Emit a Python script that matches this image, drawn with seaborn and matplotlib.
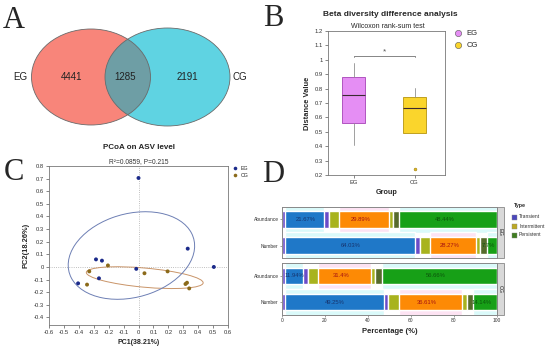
import numpy as np
import pandas as pd
import matplotlib
matplotlib.use("Agg")
import matplotlib.pyplot as plt
from matplotlib.patches import Ellipse, Rectangle
from matplotlib.lines import Line2D
from matplotlib.ticker import FuncFormatter, MultipleLocator
import seaborn as sns

sns.set_theme(style="white")
plt.rcParams['font.family'] = ['Liberation Sans', 'DejaVu Sans']
plt.rcParams['axes.unicode_minus'] = False

# ---- A: venn counts (EG only, shared, CG only)
venn_labels = ['EG', 'CG']
venn_counts = [4441, 1285, 2191]

# ---- B: box statistics
box_groups = ['EG', 'CG']
box_whislo = [0.408, 0.49]
box_q1 = [0.563, 0.49]
box_med = [0.756, 0.663]
box_q3 = [0.878, 0.744]
box_whishi = [0.976, 0.802]
box_fliers = [[], [0.242]]

# ---- C: PCoA coordinates
pc1_eg = [0.00, 0.33, 0.505, -0.285, -0.245, -0.015, -0.265, -0.405]
pc2_eg = [0.705, 0.145, 0.00, 0.06, 0.05, -0.015, -0.09, -0.13]
pc1_cg = [-0.205, -0.33, -0.345, 0.04, 0.195, 0.315, 0.325, 0.34]
pc2_cg = [0.012, -0.035, -0.14, -0.05, -0.035, -0.135, -0.125, -0.17]

# ---- D: composition (Transient, Intermittent, Persistent)
d_types = ['Transient', 'Intermittent', 'Persistent']
d_rows = ['Abundance', 'Number']
eg_abundance = [21.67, 29.89, 48.44]
eg_number = [64.03, 28.27, 7.7]
cg_abundance = [11.94, 31.4, 56.66]
cg_number = [49.25, 36.61, 14.14]

W, H = 550, 349
fig = plt.figure(figsize=(W / 100, H / 100), dpi=100)


def add_ax(l, t, r, b):
    return fig.add_axes([l / W, 1 - b / H, (r - l) / W, (b - t) / H])


def letter(x, y, s):
    fig.text(x / W, 1 - y / H, s, fontsize=22, family='Liberation Serif',
             ha='center', va='center')


# ================= A =================
axA = add_ax(0, 0, 275, 145)
axA.set_xlim(0, 275)
axA.set_ylim(145, 0)
axA.axis('off')
e_left = Ellipse((91, 77), 119, 96, fc='#f8857a', ec='none')
e_right = Ellipse((167.5, 77), 125, 98, fc='#5fd3e2', ec='none')
axA.add_patch(e_left)
axA.add_patch(e_right)
ov = Ellipse((167.5, 77), 125, 98, fc='#6e9ea5', ec='none')
axA.add_patch(ov)
ov.set_clip_path(e_left)
axA.add_patch(Ellipse((91, 77), 119, 96, fc='none', ec='#6a6a6a', lw=0.6))
axA.add_patch(Ellipse((167.5, 77), 125, 98, fc='none', ec='#6a6a6a', lw=0.6))
for x, s in zip([20, 72, 125, 187, 240],
                [venn_labels[0]] + [str(c) for c in venn_counts] + [venn_labels[1]]):
    axA.text(x, 77, s, fontsize=7, ha='center', va='center', color='#222222')
letter(14, 20, 'A')

# ================= B =================
axB = add_ax(328, 31, 445, 175)
stats = []
for i, g in enumerate(box_groups):
    stats.append(dict(label=g, whislo=box_whislo[i], q1=box_q1[i], med=box_med[i],
                      q3=box_q3[i], whishi=box_whishi[i], fliers=box_fliers[i]))
box_fill = ['#e58ef4', '#fad52c']
box_edge = ['#b055c0', '#c0a020']
bp = axB.bxp(stats, positions=[0, 1], widths=0.39, patch_artist=True, showcaps=False,
             flierprops=dict(marker='o', ms=2, mfc='#e0b820', mec='#a08010', mew=0.4))
for i, b in enumerate(bp['boxes']):
    b.set_facecolor(box_fill[i])
    b.set_edgecolor(box_edge[i])
    b.set_linewidth(0.7)
for m in bp['medians']:
    m.set_color('#3a2a30')
    m.set_linewidth(0.8)
for w in bp['whiskers']:
    w.set_color('#909090')
    w.set_linewidth(0.6)
axB.set_xlim(-0.42, 1.5)
axB.set_ylim(0.2, 1.2)
axB.yaxis.set_major_locator(MultipleLocator(0.1))
axB.yaxis.set_major_formatter(FuncFormatter(lambda v, p: '{:g}'.format(round(v, 2))))
axB.set_xticks([0, 1])
axB.set_xticklabels(box_groups)
axB.tick_params(axis='both', labelsize=4.2, length=2, width=0.5, color='#555555', pad=1.5,
                labelcolor='#333333', left=True, bottom=True)
for sp in axB.spines.values():
    sp.set_color('#777777')
    sp.set_linewidth(0.6)
axB.set_ylabel('Distance Value', fontsize=5.4, fontweight='bold', labelpad=3)
axB.set_xlabel('Group', fontsize=5.2, fontweight='bold', labelpad=3)
axB.plot([0, 0, 1, 1], [1.017, 1.026, 1.026, 1.017], color='#555555', lw=0.5)
axB.text(0.5, 1.058, '*', ha='center', va='center', fontsize=6, color='#555555')
fig.text(390 / W, 1 - 15 / H, 'Beta diversity difference analysis', fontsize=6,
         fontweight='bold', ha='center', va='center')
fig.text(388 / W, 1 - 26.5 / H, 'Wilcoxon rank-sum test', fontsize=5, ha='center', va='center')
hB = [Line2D([], [], ls='none', marker='o', ms=4.5, mfc=box_fill[i], mec='#555555', mew=0.4,
             label=g) for i, g in enumerate(box_groups)]
axB.legend(handles=hB, loc='upper left', bbox_to_anchor=(450 / W, 1 - 30 / H),
           bbox_transform=fig.transFigure, frameon=False, fontsize=5.5,
           handletextpad=0.2, labelspacing=0.6, borderaxespad=0, borderpad=0)
letter(273, 18, 'B')

# ================= C =================
axC = add_ax(49, 166, 228, 325)
df_c = pd.DataFrame({'PC1': pc1_eg + pc1_cg, 'PC2': pc2_eg + pc2_cg,
                     'Group': ['EG'] * len(pc1_eg) + ['CG'] * len(pc1_cg)})
pal_c = {'EG': '#1b2a8a', 'CG': '#8b6a1a'}
ell_c = {'EG': '#6d7fb4', 'CG': '#c99468'}
axC.axhline(0, color='#aaaaaa', lw=0.6, ls=':', zorder=1)
axC.axvline(0, color='#aaaaaa', lw=0.6, ls=':', zorder=1)
for g, d in df_c.groupby('Group'):
    cov = np.cov(d['PC1'], d['PC2'])
    vals, vecs = np.linalg.eigh(cov)
    k = 1.32
    ang = np.degrees(np.arctan2(vecs[1, 1], vecs[0, 1]))
    axC.add_patch(Ellipse((d['PC1'].mean(), d['PC2'].mean()), 2 * k * np.sqrt(vals[1]),
                          2 * k * np.sqrt(vals[0]), angle=ang, fc='none',
                          ec=ell_c[g], lw=0.7, zorder=2))
sns.scatterplot(data=df_c, x='PC1', y='PC2', hue='Group', palette=pal_c, s=8,
                edgecolor='none', legend=False, ax=axC, zorder=3)
axC.set_xlim(-0.6, 0.6)
axC.set_ylim(-0.46, 0.8)
axC.xaxis.set_major_locator(MultipleLocator(0.1))
axC.yaxis.set_major_locator(MultipleLocator(0.1))
fmt = FuncFormatter(lambda v, p: '{:g}'.format(round(v, 2)) if abs(v) > 1e-9 else '0')
axC.xaxis.set_major_formatter(fmt)
axC.yaxis.set_major_formatter(fmt)
axC.tick_params(axis='both', labelsize=4.2, length=2, width=0.5, color='#555555', pad=1.5,
                labelcolor='#333333', left=True, bottom=True)
for sp in axC.spines.values():
    sp.set_color('#777777')
    sp.set_linewidth(0.6)
axC.set_xlabel('PC1(38.21%)', fontsize=5, fontweight='bold', labelpad=3)
axC.set_ylabel('PC2(18.26%)', fontsize=5.4, fontweight='bold', labelpad=3)
fig.text(139 / W, 1 - 147 / H, 'PCoA on ASV level', fontsize=5.8, fontweight='bold',
         ha='center', va='center')
fig.text(139 / W, 1 - 162 / H, 'R\u00b2=0.0859, P=0.215', fontsize=4.8, ha='center',
         va='center', color='#333333')
hC = [Line2D([], [], ls='none', marker='o', ms=2.6, mfc=pal_c[g], mec='none', label=g)
      for g in ['EG', 'CG']]
axC.legend(handles=hC, loc='upper left', bbox_to_anchor=(230 / W, 1 - 166 / H),
           bbox_transform=fig.transFigure, frameon=False, fontsize=3.8,
           handletextpad=0.1, labelspacing=0.3, borderaxespad=0, borderpad=0)
letter(14, 172, 'C')

# ================= D =================
seg_col = {'Transient': '#6a4cc8', 'Intermittent': '#a8b31e', 'Persistent': '#566b2c'}
inner_col = {'Transient': '#1f78c8', 'Intermittent': '#fd8a05', 'Persistent': '#17a017'}
text_col = {'Transient': '#16346e', 'Intermittent': '#a51212', 'Persistent': '#0b560b'}
halo_col = {'Transient': '#dafafa', 'Intermittent': '#fde3f3', 'Persistent': '#dafafa'}
pads = {'Transient': (1.5, 2.0), 'Intermittent': (5.0, 2.0), 'Persistent': (3.0, 0.0)}
key_col = {'Transient': '#4b47bd', 'Intermittent': '#bda923', 'Persistent': '#3f7d20'}

facets = [('EG', [eg_abundance, eg_number], (207, 258)),
          ('CG', [cg_abundance, cg_number], (263, 315))]
for name, rows, (top, bot) in facets:
    ax = add_ax(282, top, 497, bot)
    for yi, vals in enumerate(rows):
        left = 0.0
        for t, v in zip(d_types, vals):
            pl, pr = pads[t]
            a, b = left + pl, left + v - pr
            ax.barh(yi, b - a, left=a, height=1.0, color=halo_col[t], zorder=0)
            ax.barh(yi, v, left=left, height=0.62, color=seg_col[t], zorder=1)
            ax.barh(yi, b - a, left=a, height=0.62, color=inner_col[t], zorder=2)
            ax.text(left + v / 2, yi, '{:g}%'.format(v), fontsize=4.2, ha='center',
                    va='center', color=text_col[t], zorder=3)
            left += v
    ax.set_xlim(0, 100)
    ax.set_ylim(1.48, -0.48)
    ax.set_yticks([0, 1])
    ax.set_yticklabels(d_rows)
    ax.set_xticks([0, 20, 40, 60, 80, 100])
    ax.tick_params(axis='both', labelsize=3.5, length=1.5, width=0.4, color='#555555',
                   pad=1, labelcolor='#333333', left=True, bottom=(name == 'CG'))
    if name == 'EG':
        ax.set_xticklabels([])
    for sp in ax.spines.values():
        sp.set_color('#888888')
        sp.set_linewidth(0.7)
    ax.add_patch(Rectangle((1.0, 0), 7 / 215, 1, transform=ax.transAxes, clip_on=False,
                           fc='#d9d9d9', ec='#888888', lw=0.6))
    ax.text(1 + 3.5 / 215, 0.5, name, transform=ax.transAxes, rotation=-90, fontsize=4,
            ha='center', va='center', color='#222222')
    if name == 'CG':
        ax.set_xlabel('Percentage (%)', fontsize=5.5, fontweight='bold', labelpad=3)

fig.text(514 / W, 1 - 205 / H, 'Type', fontsize=3.8, fontweight='bold', ha='left', va='center')
for i, t in enumerate(d_types):
    y = [217, 226, 235][i]
    fig.patches.append(Rectangle((512 / W, 1 - (y + 2.5) / H), 5 / W, 5 / H,
                                 transform=fig.transFigure, fc=key_col[t], ec='#888888',
                                 lw=0.3))
    fig.text(519 / W, 1 - y / H, t, fontsize=3.6, ha='left', va='center', color='#333333')
letter(273, 175, 'D')

fig.savefig('out.png', dpi=100)
